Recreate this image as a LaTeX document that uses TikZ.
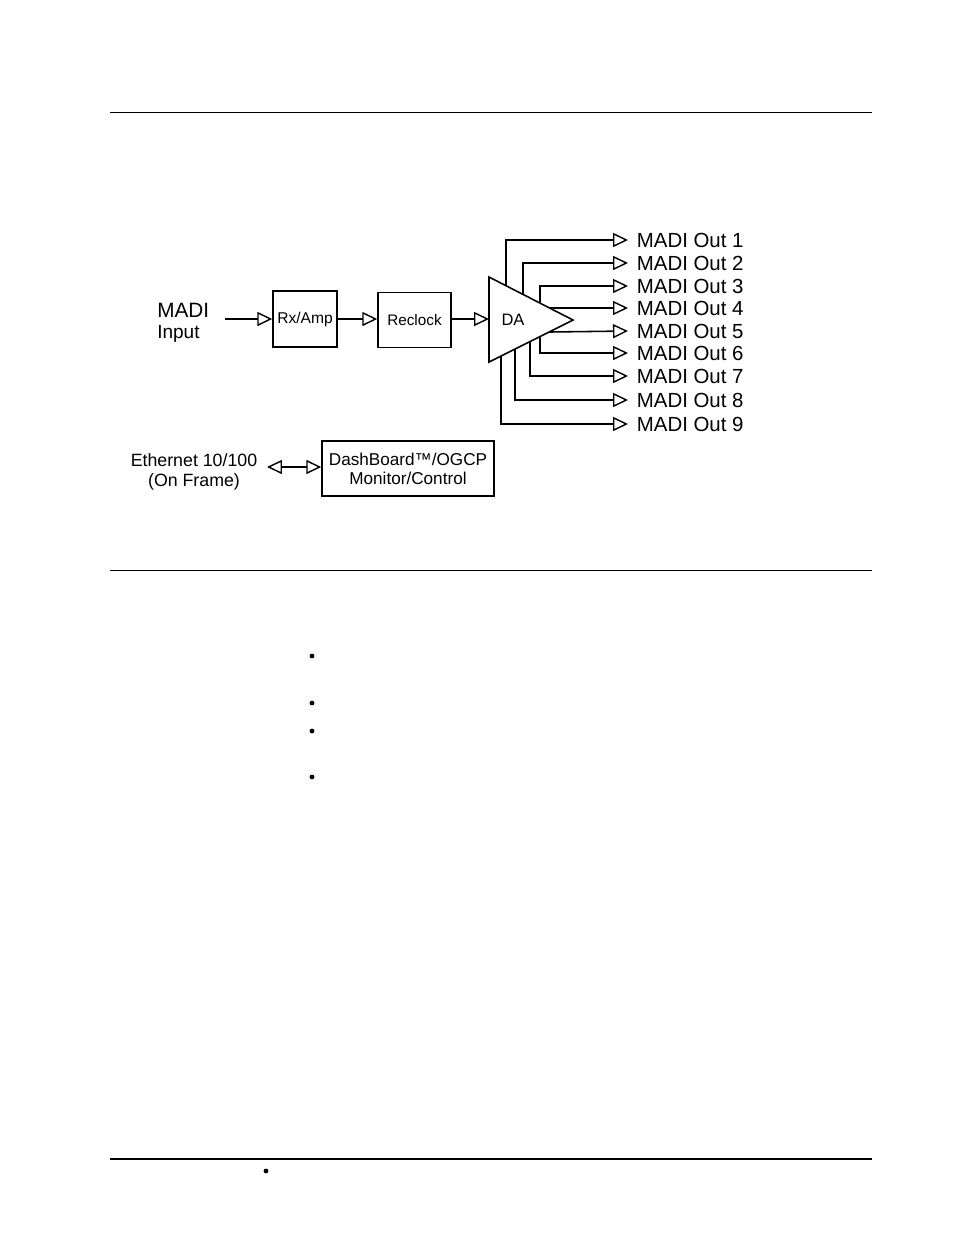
\documentclass[tikz,border=0pt]{standalone}
\usepackage{fontspec}
\setmainfont{Liberation Sans}
\usetikzlibrary{arrows.meta,calc}
\tikzset{
  sig/.style={line width=1pt, -{Triangle[open,length=9.6pt,width=9pt,line width=0.9pt]}},
  dsig/.style={line width=1pt, {Triangle[open,length=9.6pt,width=9pt,line width=0.9pt]}-{Triangle[open,length=9.6pt,width=9pt,line width=0.9pt]}},
  blk/.style={draw, line width=1pt, inner sep=0pt, align=center},
  outlab/.style={anchor=west, inner xsep=5.5pt, font=\fontsize{13.1}{15}\selectfont},
  pagerule/.style={line width=0.65pt}
}
\begin{document}
\begin{tikzpicture}[x=0.6415pt,y=-0.6415pt]
\useasboundingbox (0,0) rectangle (954,1235);
%% page rules and the bullets of the list below the figure
\draw[pagerule] (110,112.5) -- (872,112.5);
\draw[pagerule] (110,570) -- (872,570);
\draw[line width=1.3pt] (110,1159) -- (872,1159);
\fill (312,656) circle (2.4);
\fill (312,703) circle (2.4);
\fill (312,731) circle (2.4);
\fill (312,777) circle (2.4);
\fill (266,1171) circle (2.4);
%% input side
\node[anchor=base west, inner sep=0pt, font=\fontsize{13.3}{15}\selectfont] (madi) at (157,317) {MADI};
\node[anchor=base west, inner sep=0pt, font=\fontsize{12.2}{14}\selectfont] (input) at (157,338) {Input};
\coordinate (inp) at (225,319);
\node[blk, minimum width=41pt, minimum height=36pt, font=\fontsize{10}{12}\selectfont] (rx) at (305,319) {Rx/Amp};
\node[blk, minimum width=46.8pt, minimum height=35.3pt, font=\fontsize{9.8}{12}\selectfont] (reclock) at (414.5,320) {Reclock};
%% the DA triangle
\coordinate (DAtop) at (489,277);
\coordinate (DAbot) at (489,362);
\coordinate (DAtip) at (573,320);
\coordinate (DAin) at (489,319);
\draw[line width=1pt, line join=miter] (DAtop) -- (DAtip) -- (DAbot) -- cycle;
\node[font=\fontsize{10.6}{12}\selectfont] (da) at (513,320) {DA};
\draw[sig] (inp) -- (rx.west);
\draw[sig] (rx.east) -- (rx.east -| reclock.west);
\draw[sig] (reclock.east |- DAin) -- (DAin);
%% outputs
\node[outlab] (out1) at (628,240) {MADI Out 1};
\node[outlab] (out2) at (628,263) {MADI Out 2};
\node[outlab] (out3) at (628,286) {MADI Out 3};
\node[outlab] (out4) at (628,308) {MADI Out 4};
\node[outlab] (out5) at (628,331) {MADI Out 5};
\node[outlab] (out6) at (628,353) {MADI Out 6};
\node[outlab] (out7) at (628,376) {MADI Out 7};
\node[outlab] (out8) at (628,400) {MADI Out 8};
\node[outlab] (out9) at (628,424) {MADI Out 9};
\draw[sig] ($(DAtop)!0.2!(DAtip)$) |- (out1.west);
\draw[sig] ($(DAtop)!0.405!(DAtip)$) |- (out2.west);
\draw[sig] ($(DAtop)!0.607!(DAtip)$) |- (out3.west);
\draw[sig] ($(DAtop)!0.72!(DAtip)$) -- (out4.west);
\draw[sig] ($(DAbot)!0.714!(DAtip)$) -- (out5.west);
\draw[sig] ($(DAbot)!0.607!(DAtip)$) |- (out6.west);
\draw[sig] ($(DAbot)!0.488!(DAtip)$) |- (out7.west);
\draw[sig] ($(DAbot)!0.31!(DAtip)$) |- (out8.west);
\draw[sig] ($(DAbot)!0.143!(DAtip)$) |- (out9.west);
%% monitoring and control
\node[align=center, font=\fontsize{11.4}{12.8}\selectfont] (eth) at (194,472) {Ethernet 10/100\\(On Frame)};
\node[blk, minimum width=110.3pt, minimum height=35.3pt, font=\fontsize{11}{12.2}\selectfont] (dash) at (408,468.5) {DashBoard™/OGCP\\Monitor/Control};
\coordinate (ethp) at (267,467);
\draw[dsig] (ethp) -- (ethp -| dash.west);
\end{tikzpicture}
\end{document}
